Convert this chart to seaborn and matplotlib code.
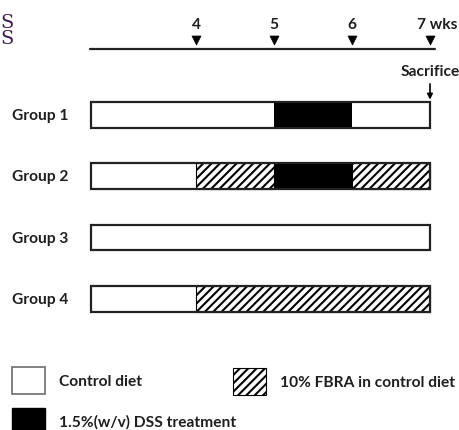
import matplotlib
matplotlib.use("Agg")
import matplotlib.pyplot as plt
import seaborn as sns
import pandas as pd
from matplotlib.patches import Patch

sns.set_style("white")
plt.rcParams['font.family'] = ['Lato', 'DejaVu Sans']
plt.rcParams['hatch.linewidth'] = 1.5

# ---- data ----
groups = ["Group 1", "Group 2", "Group 3", "Group 4"]
week_ticks = [4, 5, 6, 7]
week_labels = ["4", "5", "6", "7 wks"]
# boundaries of displayed periods (first period, weeks 0-4, is drawn compressed)
period_edges = [2.65, 4, 5, 6, 7]
# treatment in each period: C = control diet, F = 10% FBRA, D = DSS
group1 = ["C", "C", "D", "C"]
group2 = ["C", "F", "D", "F"]
group3 = ["C", "C", "C", "C"]
group4 = ["C", "F", "F", "F"]
schedules = [group1, group2, group3, group4]
legend_labels = {"C": "Control diet", "D": "1.5%(w/v) DSS treatment",
                 "F": "10% FBRA in control diet"}

styles = {"C": dict(color="white", hatch=None),
          "F": dict(color="white", hatch="////"),
          "D": dict(color="black", hatch=None)}

TXT = "#1e1e1e"
FS = 11.2

fig = plt.figure(figsize=(4.6, 4.31), dpi=100)
ax = fig.add_axes([0, 0, 1, 1])

H = 0.42
for gi, sched in enumerate(schedules):
    # merge consecutive periods with the same treatment
    runs = []
    for pi, t in enumerate(sched):
        if runs and runs[-1][2] == t:
            runs[-1][1] = period_edges[pi + 1]
        else:
            runs.append([period_edges[pi], period_edges[pi + 1], t])
    for a, b, t in runs:
        st = styles[t]
        ax.barh(gi, b - a, left=a, height=H, color=st["color"], hatch=st["hatch"],
                edgecolor="black", linewidth=0 if st["hatch"] is None else 0.8,
                zorder=2)
    ax.barh(gi, period_edges[-1] - period_edges[0], left=period_edges[0], height=H,
            fill=False, edgecolor="#222222", linewidth=1.6, zorder=3)
    ax.text(1.637, gi, groups[gi], ha="left", va="center", fontsize=FS,
            fontweight="bold", color=TXT)

# timeline
tl_y = -1.077
ax.plot([2.64, 7.06], [tl_y, tl_y], color="#222222", lw=1.6)
tri = pd.DataFrame({"week": week_ticks, "y": [tl_y - 0.15] * len(week_ticks)})
sns.scatterplot(data=tri, x="week", y="y", marker="v", s=42, color="black",
                edgecolor="black", linewidth=0.5, ax=ax, zorder=4, legend=False)
for w, lab in zip(week_ticks, week_labels):
    if lab == "7 wks":
        ax.text(w - 0.17, tl_y - 0.41, lab, ha="left", va="center",
                fontsize=FS, fontweight="bold", color=TXT)
    else:
        ax.text(w, tl_y - 0.41, lab, ha="center", va="center",
                fontsize=FS, fontweight="bold", color=TXT)

ax.annotate("Sacrifice", xy=(7, -0.25), xytext=(7, -0.72), ha="center", va="center",
            fontsize=FS, fontweight="bold", color=TXT,
            arrowprops=dict(arrowstyle="-|>", color="black", lw=1.2,
                            shrinkA=2, shrinkB=0, mutation_scale=8))

# stray serif characters at the top-left (from the source page)
ax.text(0.0, 1 - 31 / 431, "S\nS", transform=ax.transAxes, ha="left", va="center",
        fontsize=14, family="DejaVu Serif", color="#3d2050", linespacing=0.88)

# legends
lkw = dict(frameon=False, fontsize=FS, handlelength=2.1, handleheight=2.26,
           handletextpad=0.9, labelspacing=0.89, borderaxespad=0, borderpad=0,
           loc="upper left")
h_ctrl = Patch(facecolor="white", edgecolor="#777777", linewidth=1.3)
h_dss = Patch(facecolor="black", edgecolor="black")
h_fbra = Patch(facecolor="white", edgecolor="black", hatch="////", linewidth=0.8)
leg1 = ax.legend([h_ctrl, h_dss], [legend_labels["C"], legend_labels["D"]],
                 bbox_to_anchor=(12 / 460, 1 - 368 / 431), **lkw)
ax.add_artist(leg1)
leg2 = ax.legend([h_fbra], [legend_labels["F"]],
                 bbox_to_anchor=(233 / 460, 1 - 369 / 431), **lkw)
for lg in (leg1, leg2):
    for t in lg.get_texts():
        t.set_fontweight("bold")
        t.set_color(TXT)

ax.set_xlim(1.483, 7.385)
ax.set_ylim(5.139, -1.892)
ax.axis("off")

fig.savefig("out.png", dpi=100)
